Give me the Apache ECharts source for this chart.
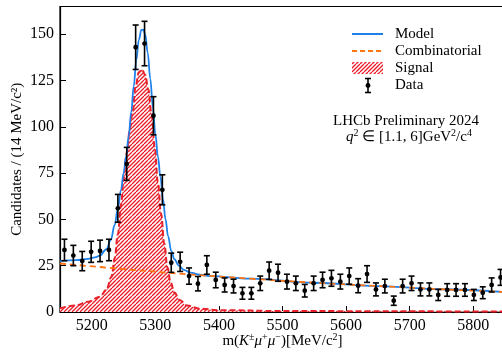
<!DOCTYPE html>
<html>
<head>
<meta charset="utf-8">
<script src="https://cdn.jsdelivr.net/npm/echarts@6/dist/echarts.min.js"></script>
<style>
  html, body { margin: 0; padding: 0; background: #fff; }
  #chart { width: 502px; height: 352px; }
</style>
</head>
<body>
<div id="chart"></div>
<script>
// binning of the histogram
const binLow = 5150;
const binWidth = 14;

// data points (candidates per bin) and their errors
const counts = [33.5, 30.5, 27.5, 32.5, 33, 33.5, 56, 80, 143, 145,
    106, 66, 26.6, 27.1, 19.4, 15.3, 25.4, 17.3, 14.6, 14,
    10.1, 10.1, 15.5, 22.3, 21.2, 16.4, 15.5, 11.5, 15.5, 17.3,
    18.2, 16.4, 19.4, 14.2, 20.5, 12.2, 14, 6.1, 14, 15.5,
    12.2, 12.2, 9.2, 11.9, 11.9, 11.9, 9.2, 10.4, 14.6, 18.7];
const errors = [5.8, 5.5, 5.2, 5.7, 5.8, 5.8, 7.5, 8.9, 12, 12,
    10.3, 8.1, 5.2, 5.2, 4.4, 3.9, 5, 4.2, 3.8, 3.7,
    3.2, 3.2, 3.9, 4.7, 4.6, 4, 3.9, 3.4, 3.9, 4.2,
    4.3, 4, 4.4, 3.8, 4.5, 3.5, 3.7, 2.5, 3.7, 3.9,
    3.5, 3.5, 3, 3.4, 3.4, 3.4, 3, 3.2, 3.8, 4.3];

// fit curves
const modelMass = [5150, 5175, 5194, 5205, 5213, 5223, 5230, 5236, 5241, 5246, 5250, 5254, 5258, 5262, 5266, 5270, 5274, 5278, 5281, 5284, 5288, 5292, 5296, 5300, 5304, 5308, 5312, 5316, 5320, 5325, 5330, 5337, 5345, 5355, 5370, 5385, 5450, 5550, 5650, 5750, 5850];
const modelVals = [27.5, 28, 28.7, 29.5, 30.5, 34, 39, 47, 56, 66, 75, 84, 95, 108, 122, 136, 147, 152.3, 152.5, 150, 140, 126, 111, 96, 84, 73, 61, 50, 41, 33, 28.5, 25, 22.8, 21.3, 20.2, 19.4, 18, 15.8, 14, 12.3, 10.8];

const combMass = [5150, 5250, 5350, 5450, 5550, 5650, 5750, 5850];
const combVals = [26.2, 23.2, 20.4, 18, 15.8, 14, 12.3, 10.8];

const signalMass = [5150, 5175, 5194, 5213, 5223, 5231, 5236, 5241, 5246, 5250, 5255, 5260, 5264, 5269, 5274, 5279, 5284, 5289, 5294, 5299, 5304, 5309, 5314, 5319, 5324, 5330, 5338, 5350, 5370, 5400, 5500, 5850];
const signalVals = [2, 3.5, 5.6, 8.3, 12, 19, 29, 42, 58, 72, 86, 99, 108, 122, 129.5, 131, 128, 120, 107, 89, 70, 53, 37, 24, 16, 10.5, 6.5, 3.5, 1.8, 1, 0.5, 0.2];

const xTicks = [5200, 5300, 5400, 5500, 5600, 5700, 5800];
const yTicks = [0, 25, 50, 75, 100, 125, 150];

const BLUE = '#1e80ea';
const ORANGE = '#ff7410';
const RED = '#e8202a';
const FONT = 'Liberation Serif';

// hatch pattern for the signal, passed as data url
function hatch() {
    const c = document.createElement('canvas');
    c.width = 8; c.height = 8;
    const ctx = c.getContext('2d');
    ctx.fillStyle = 'rgb(255,255,255)';
    ctx.fillRect(0, 0, 8, 8);
    ctx.strokeStyle = 'rgb(232,32,42)';
    ctx.lineWidth = 1.3;
    for (let k = -8; k <= 16; k += 4) {
        ctx.beginPath();
        ctx.moveTo(k, 8);
        ctx.lineTo(k + 8, 0);
        ctx.stroke();
    }
    return c.toDataURL('image/png');
}
const hatchFill = {image: hatch(), repeat: 'repeat'};

const pair = (xs, ys) => xs.map((x, i) => [x, ys[i]]);
const points = counts.map((v, i) => [binLow + binWidth * (i + 0.5), v, errors[i]]);

function errBar(params, api) {
    const x = api.value(0), y = api.value(1), e = api.value(2);
    const p = api.coord([x, y]);
    const hi = api.coord([x, y + e]);
    const lo = api.coord([x, y - e]);
    const st = {stroke: '#000', lineWidth: 1.6};
    return {
        type: 'group',
        children: [
            {type: 'line', shape: {x1: p[0], y1: hi[1], x2: p[0], y2: lo[1]}, style: st},
            {type: 'line', shape: {x1: p[0] - 3, y1: hi[1], x2: p[0] + 3, y2: hi[1]}, style: st},
            {type: 'line', shape: {x1: p[0] - 3, y1: lo[1], x2: p[0] + 3, y2: lo[1]}, style: st},
            {type: 'circle', shape: {cx: p[0], cy: p[1], r: 2.4}, style: {fill: '#000'}}
        ]
    };
}

const chart = echarts.init(document.getElementById('chart'), null, {renderer: 'canvas'});

const txt = (x, y, text, extra) => ({
    type: 'text', x: x, y: y, z: 100,
    style: Object.assign({text: text, font: '15px "' + FONT + '"', fill: '#000', verticalAlign: 'middle'}, extra || {})
});

const option = {
    animation: false,
    grid: {
        left: 60, top: 6.5, right: -3, bottom: 40,
        containLabel: false, outerBoundsMode: 'none',
        show: true, borderColor: '#000', borderWidth: 1.2
    },
    xAxis: {
        type: 'value', min: 5150, max: 5850,
        name: '{n|m(}{i|K}{s|±}{i|μ}{s|+}{i|μ}{s|−}{n|)[MeV/c}{s|2}{n|]}',
        nameLocation: 'middle', nameGap: 20, nameMoveOverlap: false,
        nameTextStyle: {
            fontFamily: FONT, fontSize: 15, color: '#000',
            rich: {
                n: {fontFamily: FONT, fontSize: 15, color: '#000', lineHeight: 18},
                i: {fontFamily: FONT, fontSize: 15, fontStyle: 'italic', color: '#000', lineHeight: 18},
                s: {fontFamily: FONT, fontSize: 10, color: '#000', verticalAlign: 'top', lineHeight: 18, padding: [0, 0, 6, 0]}
            }
        },
        axisLine: {show: true, onZero: false, lineStyle: {color: '#000', width: 1.2}},
        axisTick: {show: true, inside: true, length: 6, customValues: xTicks, lineStyle: {color: '#000', width: 1}},
        axisLabel: {
            customValues: xTicks, color: '#000', fontFamily: FONT, fontSize: 16, margin: 6,
            formatter: v => String(v)
        },
        splitLine: {show: false}
    },
    yAxis: {
        type: 'value', min: 0, max: 165,
        name: 'Candidates / (14 MeV/c²)',
        nameLocation: 'middle', nameGap: 35, nameRotate: 90, nameMoveOverlap: false,
        nameTextStyle: {fontFamily: FONT, fontSize: 15, color: '#000'},
        axisLine: {show: true, onZero: false, lineStyle: {color: '#000', width: 1.2}},
        axisTick: {show: true, inside: true, length: 6, customValues: yTicks, lineStyle: {color: '#000', width: 1}},
        axisLabel: {
            customValues: yTicks, color: '#000', fontFamily: FONT, fontSize: 16, margin: 6,
            formatter: v => String(v)
        },
        splitLine: {show: false}
    },
    series: [
        {
            name: 'Signal', type: 'line', data: pair(signalMass, signalVals),
            smooth: 0.4, smoothMonotone: 'x', showSymbol: false, z: 2,
            lineStyle: {color: RED, width: 2, type: [6, 3]},
            areaStyle: {color: hatchFill, opacity: 1}
        },
        {
            name: 'Model', type: 'line', data: pair(modelMass, modelVals),
            smooth: 0.4, smoothMonotone: 'x', showSymbol: false, z: 3,
            lineStyle: {color: BLUE, width: 1.8}
        },
        {
            name: 'Combinatorial', type: 'line', data: pair(combMass, combVals),
            smooth: 0.4, showSymbol: false, z: 4,
            lineStyle: {color: ORANGE, width: 1.8, type: [6, 4]}
        },
        {
            name: 'Data', type: 'custom', data: points, z: 5,
            renderItem: errBar, clip: false
        }
    ],
    graphic: [
        {type: 'line', shape: {x1: 352, y1: 34, x2: 383, y2: 34}, style: {stroke: BLUE, lineWidth: 2}},
        {type: 'line', shape: {x1: 352, y1: 51, x2: 383, y2: 51}, style: {stroke: ORANGE, lineWidth: 2, lineDash: [5, 3]}},
        {type: 'rect', shape: {x: 352, y: 62, width: 31, height: 12}, style: {fill: hatchFill}},
        {type: 'line', shape: {x1: 368, y1: 78.5, x2: 368, y2: 92.5}, style: {stroke: '#000', lineWidth: 1.6}},
        {type: 'line', shape: {x1: 365, y1: 78.5, x2: 371, y2: 78.5}, style: {stroke: '#000', lineWidth: 1.6}},
        {type: 'line', shape: {x1: 365, y1: 92.5, x2: 371, y2: 92.5}, style: {stroke: '#000', lineWidth: 1.6}},
        {type: 'circle', shape: {cx: 368, cy: 85.5, r: 2.4}, style: {fill: '#000'}},
        txt(395, 34, 'Model'),
        txt(395, 51, 'Combinatorial'),
        txt(395, 68, 'Signal'),
        txt(395, 85.5, 'Data'),
        txt(406, 121, 'LHCb Preliminary 2024', {align: 'center'}),
        {
            type: 'text', x: 409, y: 137, z: 100,
            style: {
                text: '{i|q}{s|2} ∈ [1.1, 6]GeV{s|2}/c{s|4}',
                align: 'center', verticalAlign: 'middle',
                font: '15px "' + FONT + '"', fill: '#000',
                rich: {
                    i: {font: 'italic 15px "' + FONT + '"', fill: '#000', lineHeight: 18},
                    s: {font: '10px "' + FONT + '"', fill: '#000', verticalAlign: 'top', lineHeight: 18, padding: [0, 0, 6, 0]}
                }
            }
        }
    ]
};
chart.setOption(option);
</script>
</body>
</html>
